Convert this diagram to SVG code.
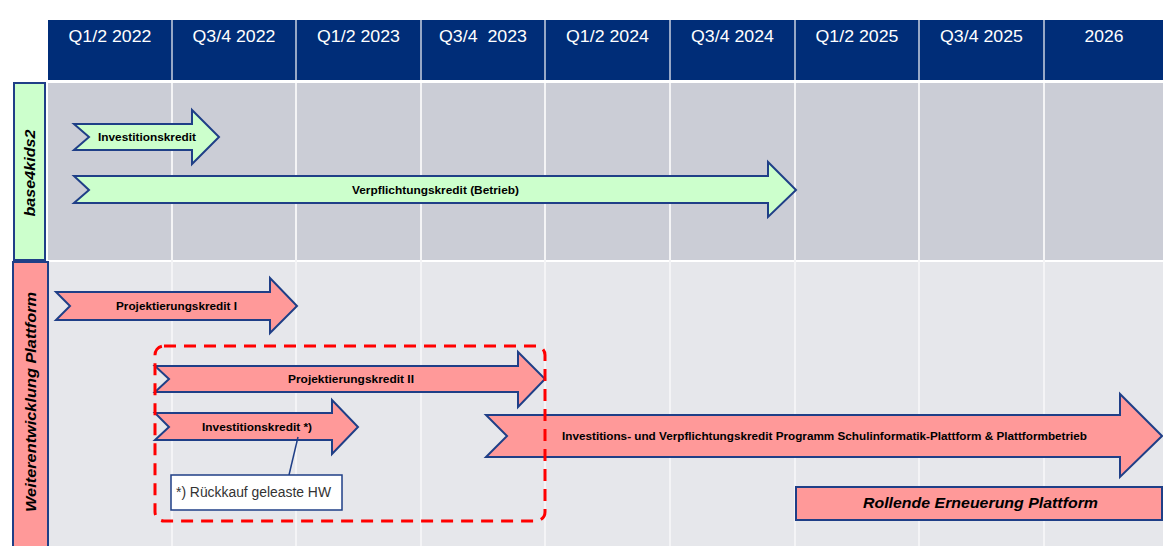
<svg xmlns="http://www.w3.org/2000/svg" width="1163" height="546" viewBox="0 0 1163 546">
<style>
.hd{fill:#002d78}
.ht{fill:#ffffff;font-family:"Liberation Sans",Arial,sans-serif;font-size:17px;text-anchor:middle}
.grid{stroke:#f4f4f6;stroke-width:2}
.g{fill:#ccffcc;stroke:#1f3f87;stroke-width:2;stroke-linejoin:miter}
.r{fill:#ff9999;stroke:#1f3f87;stroke-width:2;stroke-linejoin:miter}
.lb{font-family:"Liberation Sans",Arial,sans-serif;font-size:11.5px;font-weight:bold;fill:#000;text-anchor:middle}
.side{font-family:"Liberation Sans",Arial,sans-serif;font-size:14.5px;font-weight:bold;font-style:italic;fill:#000;text-anchor:middle}
</style>
<rect width="1163" height="546" fill="#ffffff"/>
<g id="header">
<rect class="hd" x="48" y="20" width="1115" height="60"/>
<g stroke="#c8d0e0" stroke-width="1.5">
<line x1="172" y1="20" x2="172" y2="80"/><line x1="296" y1="20" x2="296" y2="80"/><line x1="421" y1="20" x2="421" y2="80"/><line x1="545" y1="20" x2="545" y2="80"/><line x1="670" y1="20" x2="670" y2="80"/><line x1="795" y1="20" x2="795" y2="80"/><line x1="919" y1="20" x2="919" y2="80"/><line x1="1044" y1="20" x2="1044" y2="80"/>
</g>
<text class="ht" x="110" y="42" textLength="83" lengthAdjust="spacingAndGlyphs">Q1/2 2022</text>
<text class="ht" x="234" y="42" textLength="83" lengthAdjust="spacingAndGlyphs">Q3/4 2022</text>
<text class="ht" x="358.5" y="42" textLength="83" lengthAdjust="spacingAndGlyphs">Q1/2 2023</text>
<text class="ht" x="483" y="42" textLength="88" lengthAdjust="spacingAndGlyphs" xml:space="preserve">Q3/4  2023</text>
<text class="ht" x="607.5" y="42" textLength="83" lengthAdjust="spacingAndGlyphs">Q1/2 2024</text>
<text class="ht" x="732.5" y="42" textLength="83" lengthAdjust="spacingAndGlyphs">Q3/4 2024</text>
<text class="ht" x="857" y="42" textLength="83" lengthAdjust="spacingAndGlyphs">Q1/2 2025</text>
<text class="ht" x="981.5" y="42" textLength="83" lengthAdjust="spacingAndGlyphs">Q3/4 2025</text>
<text class="ht" x="1104" y="42" textLength="39" lengthAdjust="spacingAndGlyphs">2026</text>
</g>
<g id="bands">
<rect x="48" y="83" width="1115" height="177" fill="#cbcdd6"/>
<rect x="48" y="262" width="1115" height="284" fill="#e6e7eb"/>
<g class="grid">
<line x1="172" y1="83" x2="172" y2="546"/><line x1="296" y1="83" x2="296" y2="546"/><line x1="421" y1="83" x2="421" y2="546"/><line x1="545" y1="83" x2="545" y2="546"/><line x1="670" y1="83" x2="670" y2="546"/><line x1="795" y1="83" x2="795" y2="546"/><line x1="919" y1="83" x2="919" y2="546"/><line x1="1044" y1="83" x2="1044" y2="546"/>
</g>
</g>
<g id="side-base4kids2">
<rect x="14" y="83" width="31" height="177" fill="#ccffcc" stroke="#1f3f87" stroke-width="2"/>
<text class="side" transform="translate(35,173) rotate(-90)" textLength="87" lengthAdjust="spacingAndGlyphs">base4kids2</text>
</g>
<g id="side-weiterentwicklung">
<rect x="13" y="262" width="35" height="290" fill="#ff9999" stroke="#1f3f87" stroke-width="2"/>
<text class="side" transform="translate(36,402) rotate(-90)" textLength="220" lengthAdjust="spacingAndGlyphs">Weiterentwicklung Plattform</text>
</g>
<g id="arrow-investitionskredit">
<polygon class="g" points="74,124 192,124 192,110 219,137 192,164 192,150 74,150 89,137"/>
<text class="lb" x="147" y="141" textLength="98" lengthAdjust="spacingAndGlyphs">Investitionskredit</text>
</g>
<g id="arrow-verpflichtungskredit">
<polygon class="g" points="74,176 768,176 768,162 796,190 768,217 768,203 74,203 89,190"/>
<text class="lb" x="435.5" y="194" textLength="167" lengthAdjust="spacingAndGlyphs">Verpflichtungskredit (Betrieb)</text>
</g>
<g id="arrow-projektierungskredit-1">
<polygon class="r" points="56,292 270,292 270,278 297,306 270,333 270,320 56,320 70,306"/>
<text class="lb" x="176.5" y="310" textLength="121" lengthAdjust="spacingAndGlyphs">Projektierungskredit I</text>
</g>
<g id="arrow-projektierungskredit-2">
<polygon class="r" points="155,366 518,366 518,352 545,379 518,407 518,392 155,392 169,379"/>
<text class="lb" x="351" y="383" textLength="126" lengthAdjust="spacingAndGlyphs">Projektierungskredit II</text>
</g>
<g id="arrow-investitionskredit-2">
<polygon class="r" points="155,413 332,413 332,400 358,427 332,454 332,440 155,440 169,427"/>
<text class="lb" x="257" y="431" textLength="110" lengthAdjust="spacingAndGlyphs">Investitionskredit *)</text>
</g>
<g id="arrow-programm">
<polygon class="r" points="486,415 1120,415 1120,394 1162,436 1120,477 1120,457 486,457 507,436"/>
<text class="lb" x="824.5" y="440" textLength="525" lengthAdjust="spacingAndGlyphs">Investitions- und Verpflichtungskredit Programm Schulinformatik-Plattform &amp; Plattformbetrieb</text>
</g>
<g id="rollende-erneuerung">
<rect x="796" y="487" width="366" height="33" fill="#ff9999" stroke="#1f3f87" stroke-width="2"/>
<text class="side" x="980.5" y="508" textLength="235" lengthAdjust="spacingAndGlyphs">Rollende Erneuerung Plattform</text>
</g>
<g id="dashed-group">
<rect x="155" y="346" width="390" height="175" rx="9" ry="9" fill="none" stroke="#ff0000" stroke-width="3" stroke-dasharray="12,8"/>
</g>
<g id="connectors">
<line x1="298" y1="437" x2="289" y2="475" stroke="#1f3f87" stroke-width="1.5"/>
</g>
<g id="note">
<rect x="171" y="475" width="171" height="35" fill="#ffffff" stroke="#1f3f87" stroke-width="1.5"/>
<text x="176" y="497" font-family="Liberation Sans, Arial, sans-serif" font-size="14" fill="#333333" textLength="155" lengthAdjust="spacingAndGlyphs">*) Rückkauf geleaste HW</text>
</g>
</svg>
